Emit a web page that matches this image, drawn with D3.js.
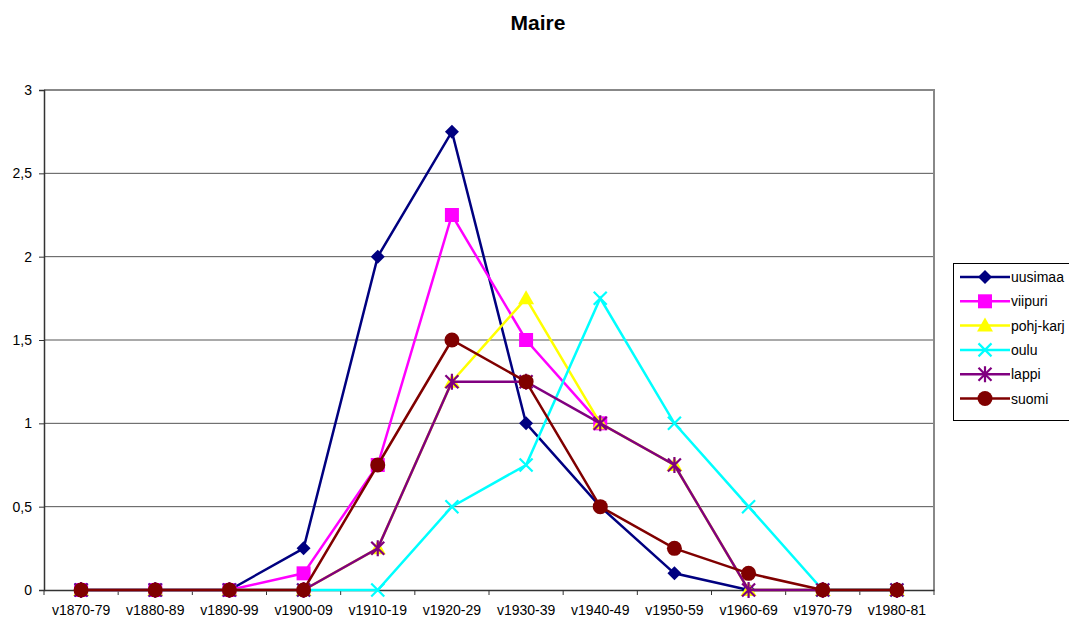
<!DOCTYPE html>
<html><head><meta charset="utf-8">
<script src="https://cdn.jsdelivr.net/npm/d3@7"></script>
<style>body{margin:0;background:#fff;font-family:"Liberation Sans",Arial,sans-serif;}</style>
</head><body>
<svg id="c" width="1069" height="619"></svg>
<script>
const categories = ["v1870-79","v1880-89","v1890-99","v1900-09","v1910-19","v1920-29","v1930-39","v1940-49","v1950-59","v1960-69","v1970-79","v1980-81"];
const uusimaa  = [0,0,0,0.25,2,2.75,1,0.5,0.1,0,0,0];
const viipuri  = [0,0,0,0.1,0.75,2.25,1.5,1,null,null,null,null];
const pohjkarj = [0,0,0,0,0.25,1.25,1.75,1,0.75,0,0,0];
const oulu     = [0,0,0,0,0,0.5,0.75,1.75,1,0.5,0,0];
const lappi    = [0,0,0,0,0.25,1.25,1.25,1,0.75,0,0,0];
const suomi    = [0,0,0,0,0.75,1.5,1.25,0.5,0.25,0.1,0,0];
const yTicks = [0,0.5,1,1.5,2,2.5,3];
const seriesNames = ["uusimaa","viipuri","pohj-karj","oulu","lappi","suomi"];
const seriesValues = [uusimaa,viipuri,pohjkarj,oulu,lappi,suomi];
const colors = ["#000080","#FF00FF","#FFFF00","#00FFFF","#800080","#800000"];
const markers = ["diamond","square","triangle","x","star","circle"];

const svg = d3.select("#c");
const L=44,R=934,T=90,B=590;
const x = d3.scaleBand().domain(categories).range([L,R]);
const y = d3.scaleLinear().domain([0,3]).range([B,T]);

svg.append("text").attr("x",538).attr("y",30).attr("text-anchor","middle")
  .attr("font-size",21).attr("font-weight","bold").text("Maire");

// gridlines
svg.append("g").selectAll("line").data(yTicks.filter(d=>d>0&&d<3)).join("line")
  .attr("x1",L).attr("x2",R).attr("y1",d=>y(d)).attr("y2",d=>y(d))
  .attr("stroke","#555").attr("stroke-width",1);
// frame top/right
svg.append("path").attr("d",`M${L},${T}H${R}V${B}`).attr("fill","none").attr("stroke","#888").attr("stroke-width",2);

// y axis
const ya = svg.append("g").attr("transform",`translate(${L},0)`)
  .call(d3.axisLeft(y).tickValues(yTicks).tickSize(5).tickPadding(7).tickFormat(d=>String(d).replace(".",",")));
ya.select(".domain").attr("stroke","#333").attr("stroke-width",1.5);
ya.selectAll(".tick line").attr("stroke","#333");
ya.selectAll("text").attr("font-size",14).attr("font-family","Liberation Sans, Arial, sans-serif").attr("fill","#000");

// x axis
const xa = svg.append("g").attr("transform",`translate(0,${B})`)
  .call(d3.axisBottom(x).tickSize(0).tickPadding(15));
xa.select(".domain").attr("stroke","#333").attr("stroke-width",1.5);
xa.selectAll("text").attr("font-size",14).attr("font-family","Liberation Sans, Arial, sans-serif").attr("fill","#000");
xa.selectAll(".sep").data(d3.range(categories.length+1)).join("line").attr("class","sep")
  .attr("x1",i=>L+i*x.step()).attr("x2",i=>L+i*x.step()).attr("y1",0).attr("y2",5).attr("stroke","#333");

function drawMarker(g,type,color){
  if(type==="diamond") g.append("path").attr("d","M0,-7L7,0L0,7L-7,0Z").attr("fill",color);
  else if(type==="square") g.append("rect").attr("x",-7).attr("y",-7).attr("width",14).attr("height",14).attr("fill",color);
  else if(type==="triangle") g.append("path").attr("d","M0,-8L8,6L-8,6Z").attr("fill",color);
  else if(type==="x") g.append("path").attr("d","M-6.5,-6.5L6.5,6.5M-6.5,6.5L6.5,-6.5").attr("stroke",color).attr("stroke-width",2.2);
  else if(type==="star") g.append("path").attr("d","M-6.5,-6.5L6.5,6.5M-6.5,6.5L6.5,-6.5M0,-8V8").attr("stroke",color).attr("stroke-width",2.2);
  else if(type==="circle") g.append("circle").attr("r",7.5).attr("fill",color);
}

const line = d3.line().defined(d=>d!==null).x((d,i)=>x(categories[i])+x.bandwidth()/2).y(d=>y(d));
seriesValues.forEach((vals,si)=>{
  const g = svg.append("g");
  g.append("path").attr("d",line(vals)).attr("fill","none").attr("stroke",colors[si]).attr("stroke-width",2.5);
  vals.forEach((v,i)=>{
    if(v===null) return;
    const m = g.append("g").attr("transform",`translate(${x(categories[i])+x.bandwidth()/2},${y(v)})`);
    drawMarker(m,markers[si],colors[si]);
  });
});

// legend
const lg = svg.append("g");
lg.append("rect").attr("x",953.5).attr("y",263.5).attr("width",130).attr("height",157).attr("fill","#fff").attr("stroke","#000").attr("stroke-width",1);
seriesNames.forEach((n,i)=>{
  const yy = 277+i*24.3;
  lg.append("line").attr("x1",960).attr("x2",1010).attr("y1",yy).attr("y2",yy).attr("stroke",colors[i]).attr("stroke-width",2.5);
  const m = lg.append("g").attr("transform",`translate(985,${yy})`);
  drawMarker(m,markers[i],colors[i]);
  lg.append("text").attr("x",1011).attr("y",yy+5).attr("font-size",14).text(n);
});
</script>
</body></html>
